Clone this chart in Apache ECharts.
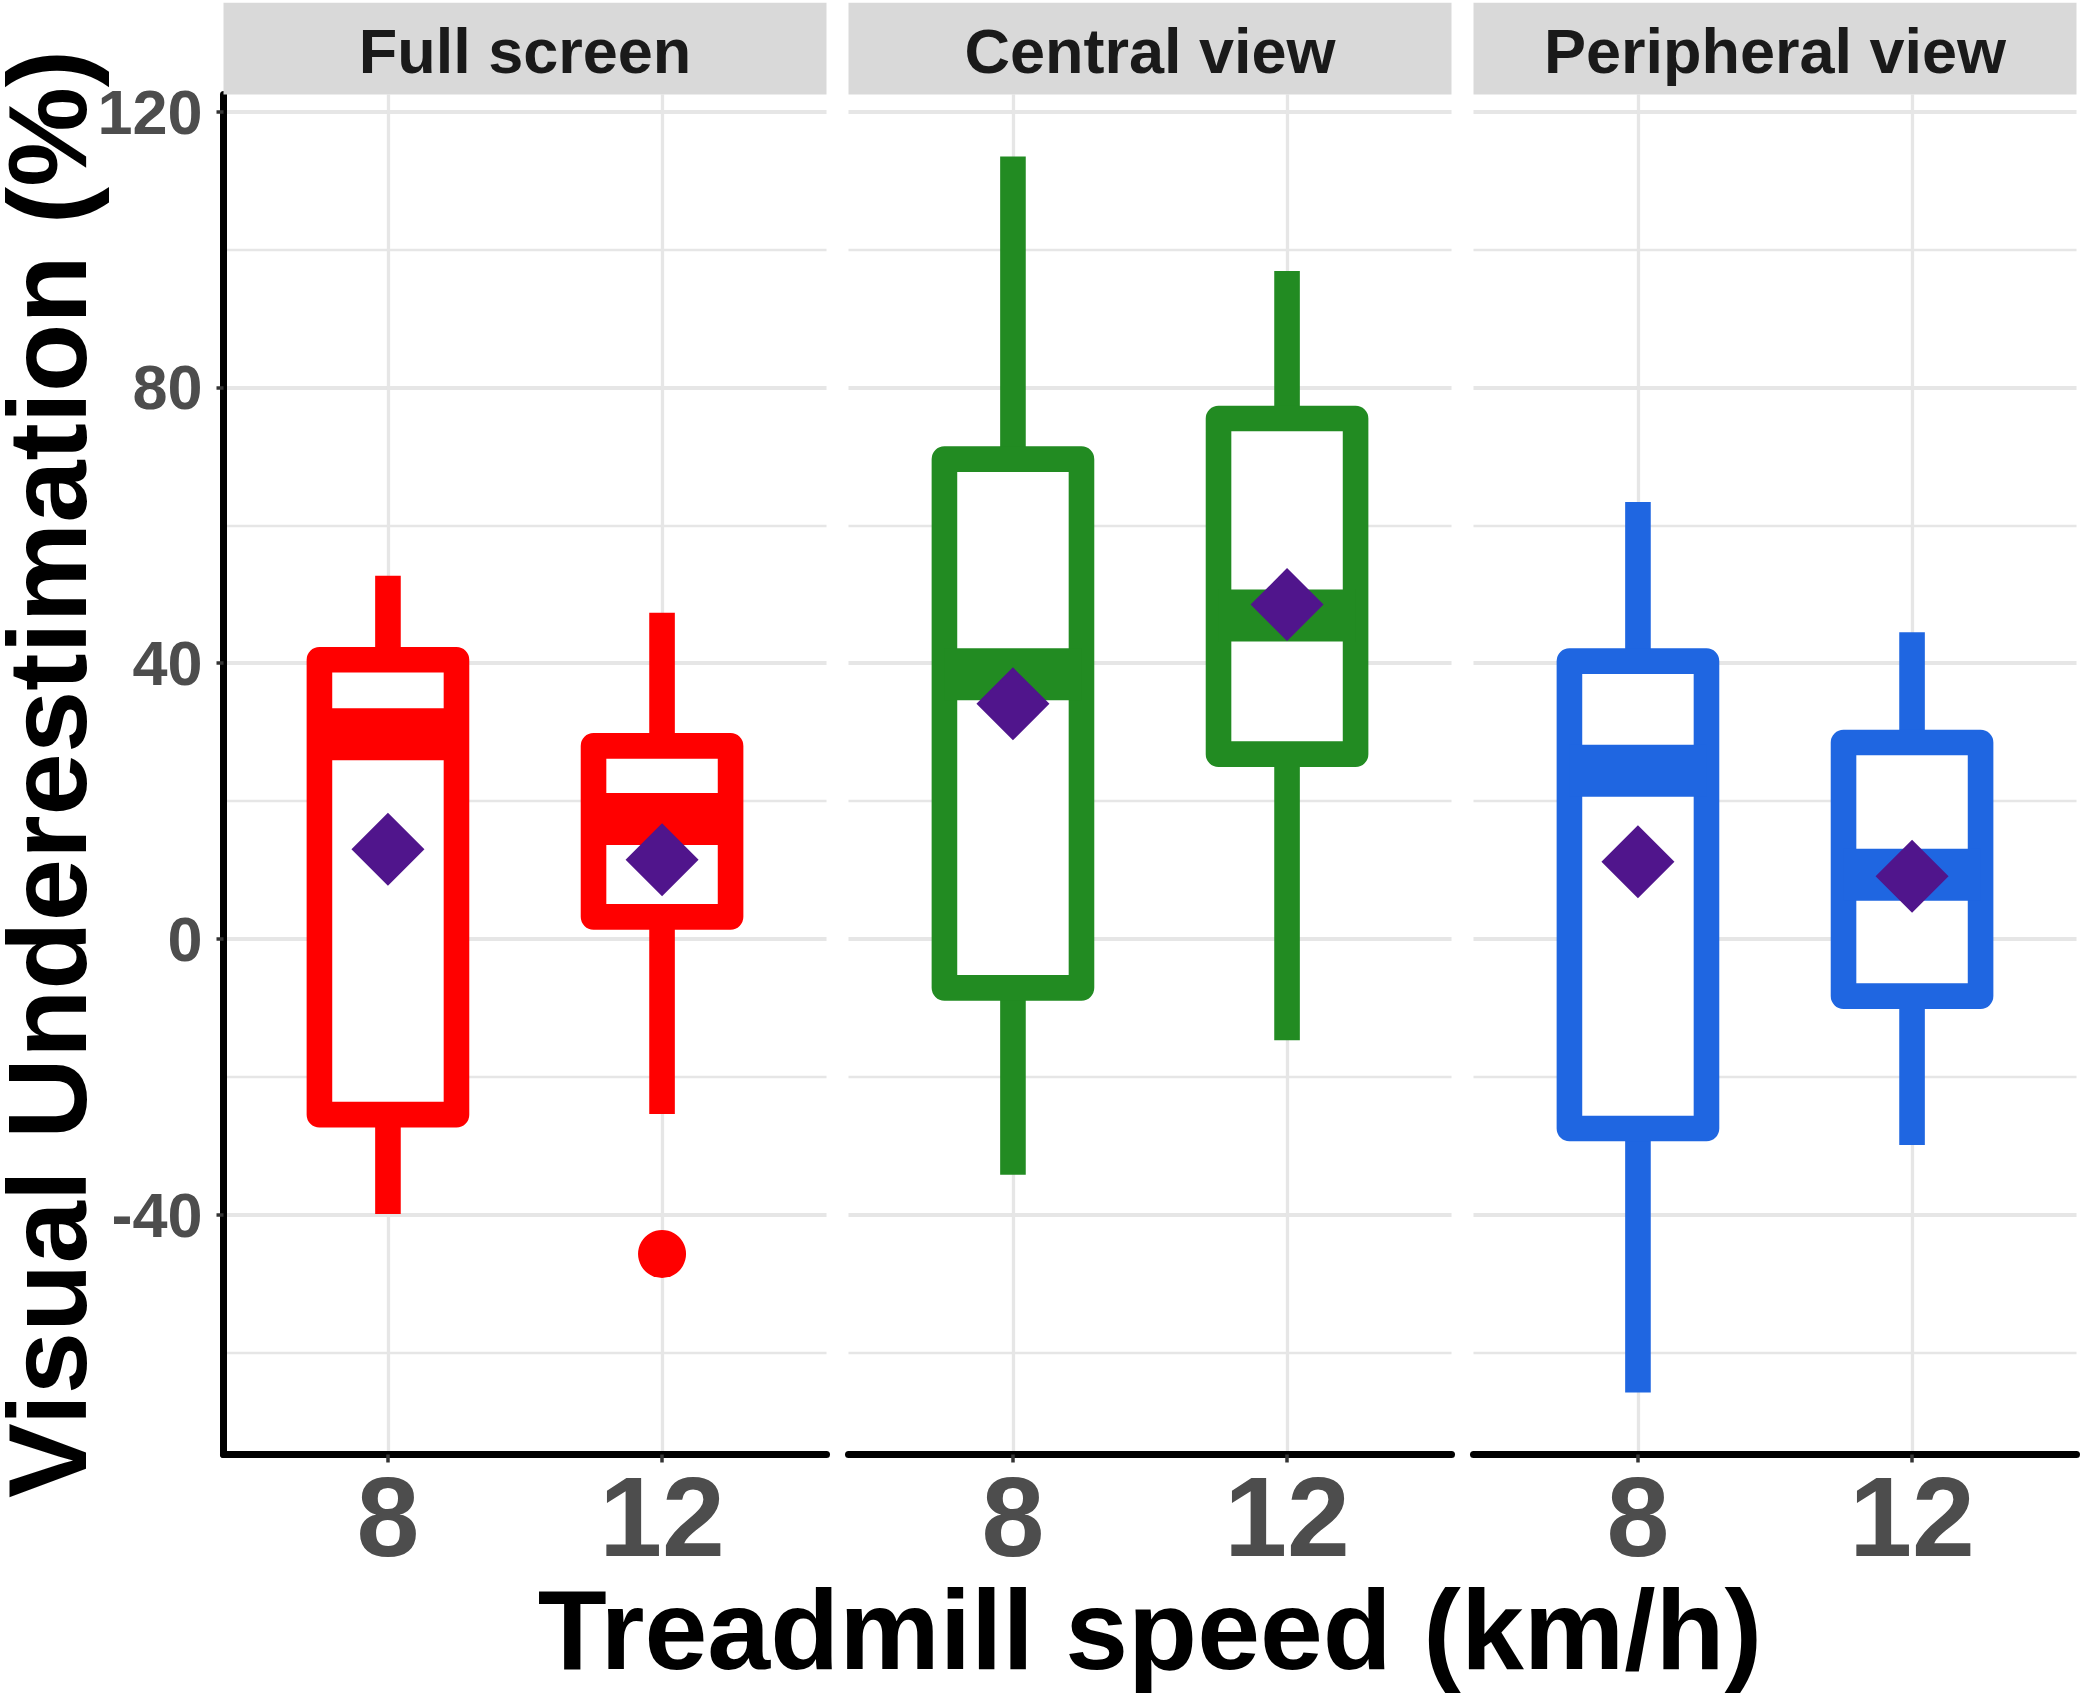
<!DOCTYPE html>
<html>
<head>
<meta charset="utf-8">
<script src="https://cdn.jsdelivr.net/npm/echarts@6/dist/echarts.min.js"></script>
<style>
html,body{margin:0;padding:0;background:#fff;overflow:hidden;}
#chart{width:2080px;height:1696px;}
</style>
</head>
<body>
<div id="chart"></div>
<script>
// ---- data ----
const panels = ['Full screen', 'Central view', 'Peripheral view'];
const speeds = ['8', '12'];
const whiskerLow  = [[-39.9, -25.4], [-34.2, -14.7], [-65.8, -29.9]];
const q1          = [[-25.5,   3.2], [ -7.1,  26.8], [-27.5,  -8.3]];
const medians     = [[ 29.7,  17.4], [ 38.4,  46.9], [ 24.4,   9.3]];
const q3          = [[ 40.5,  28.0], [ 69.6,  75.5], [ 40.3,  28.5]];
const whiskerHigh = [[ 52.7,  47.3], [113.5,  96.9], [ 63.4,  44.5]];
const means       = [[ 13.0,  11.5], [ 34.1,  48.5], [ 11.2,   9.1]];
const outliers    = [[[], [-45.7]], [[], []], [[], []]];
const yTicks = [-40, 0, 40, 80, 120];
const yMinor = [-60, -20, 20, 60, 100];
const yMin = -74.8, yMax = 122.5;
const xTitle = 'Treadmill speed (km/h)';
const yTitle = 'Visual Underestimation (%)';

// ---- styling ----
const FONT = '"Liberation Sans", Arial, Helvetica, sans-serif';
const panelColors = ['#FF0000', '#228B22', '#1F66E1'];
const meanColor = '#50158C';
const gridColor = '#E6E6E6';
const panelLeft = [223.5, 848.5, 1473.5];
const panelW = 603, panelTop = 94.5, panelH = 1360;
const LW = 25.6;

const chart = echarts.init(document.getElementById('chart'), null, {renderer: 'svg', width: 2080, height: 1696});

const grids = [], xAxes = [], yAxes = [], series = [], graphics = [];

panels.forEach((name, p) => {
  grids.push({left: panelLeft[p], top: panelTop, width: panelW, height: panelH, containLabel: false});
  xAxes.push({
    type: 'value', gridIndex: p, min: 0.4, max: 2.6,
    axisLine: {show: true, onZero: false, lineStyle: {color: '#000', width: 7}},
    axisTick: {show: true, customValues: [1, 2], length: 8, lineStyle: {color: '#333', width: 3.5}},
    axisLabel: {show: true, customValues: [1, 2], formatter: v => speeds[Math.round(v) - 1],
      fontSize: 113, lineHeight: 96, fontWeight: 'bold', color: '#4D4D4D', fontFamily: FONT, margin: 14},
    splitLine: {show: true, lineStyle: {color: gridColor, width: 3.3}}
  });
  // major y axis
  yAxes.push({
    type: 'value', gridIndex: p, min: yMin, max: yMax,
    axisLine: {show: p === 0, onZero: false, lineStyle: {color: '#000', width: 7}},
    axisTick: {show: p === 0, customValues: yTicks, length: 7, lineStyle: {color: '#333', width: 3.5}},
    axisLabel: {show: p === 0, customValues: yTicks, fontSize: 63, fontWeight: 'bold', color: '#4D4D4D', fontFamily: FONT, margin: 21},
    splitLine: {show: true, lineStyle: {color: gridColor, width: 3.8}}
  });
  // minor y axis (grid lines only)
  yAxes.push({
    type: 'value', gridIndex: p, min: yMin, max: yMax, position: 'left',
    axisLine: {show: false, onZero: false},
    axisTick: {show: false, customValues: yMinor},
    axisLabel: {show: false, customValues: yMinor},
    splitLine: {show: true, lineStyle: {color: gridColor, width: 2.3}}
  });

  const boxData = speeds.map((s, i) => [i + 1, whiskerLow[p][i], q1[p][i], medians[p][i], q3[p][i], whiskerHigh[p][i]]);
  series.push({
    type: 'custom', name: name, xAxisIndex: p, yAxisIndex: 2 * p,
    itemStyle: {color: panelColors[p]},
    data: boxData, z: 3,
    renderItem: function (params, api) {
      const x = api.value(0);
      const lo = api.coord([x, api.value(1)]);
      const b1 = api.coord([x, api.value(2)]);
      const md = api.coord([x, api.value(3)]);
      const b3 = api.coord([x, api.value(4)]);
      const hi = api.coord([x, api.value(5)]);
      const w = api.size([0.5, 0])[0];
      const c = api.visual('color');
      const cx = lo[0];
      return {type: 'group', children: [
        {type: 'rect', shape: {x: cx - LW / 2, y: hi[1], width: LW, height: b3[1] - hi[1]}, style: {fill: c}},
        {type: 'rect', shape: {x: cx - LW / 2, y: b1[1], width: LW, height: lo[1] - b1[1]}, style: {fill: c}},
        {type: 'rect', shape: {x: cx - w / 2, y: b3[1], width: w, height: b1[1] - b3[1]},
          style: {fill: '#fff', stroke: c, lineWidth: LW, lineJoin: 'round'}},
        {type: 'rect', shape: {x: cx - w / 2, y: md[1] - 26, width: w, height: 52}, style: {fill: c}}
      ]};
    }
  });
  const outData = [];
  speeds.forEach((s, i) => outliers[p][i].forEach(v => outData.push([i + 1, v])));
  series.push({
    type: 'scatter', name: name + ' outliers', xAxisIndex: p, yAxisIndex: 2 * p,
    symbol: 'circle', symbolSize: 48, itemStyle: {color: panelColors[p], opacity: 1},
    data: outData, z: 4, silent: true
  });
  series.push({
    type: 'scatter', name: name + ' mean', xAxisIndex: p, yAxisIndex: 2 * p,
    symbol: 'diamond', symbolSize: 73, itemStyle: {color: meanColor, opacity: 1},
    data: speeds.map((s, i) => [i + 1, means[p][i]]), z: 5, silent: true
  });

  // facet strip
  graphics.push({type: 'rect', shape: {x: panelLeft[p], y: 2.7, width: panelW, height: panelTop - 2.7}, style: {fill: '#D9D9D9'}, z: 1});
  graphics.push({type: 'text', x: panelLeft[p] + panelW / 2, y: 51, z: 2,
    style: {text: name, font: 'bold 63px ' + FONT, lineHeight: 70, fill: '#1A1A1A', textAlign: 'center', textVerticalAlign: 'middle'}});
});

graphics.push({type: 'text', x: 1150, y: 1630,
  style: {text: xTitle, font: 'bold 113px ' + FONT, lineHeight: 96, fill: '#000', textAlign: 'center', textVerticalAlign: 'middle'}});
graphics.push({type: 'text', x: 47, y: 774, rotation: Math.PI / 2,
  style: {text: yTitle, font: 'bold 112px ' + FONT, lineHeight: 90, fill: '#000', textAlign: 'center', textVerticalAlign: 'middle'}});

chart.setOption({
  animation: false,
  backgroundColor: '#fff',
  grid: grids,
  xAxis: xAxes,
  yAxis: yAxes,
  series: series,
  graphic: graphics
});
</script>
</body>
</html>
